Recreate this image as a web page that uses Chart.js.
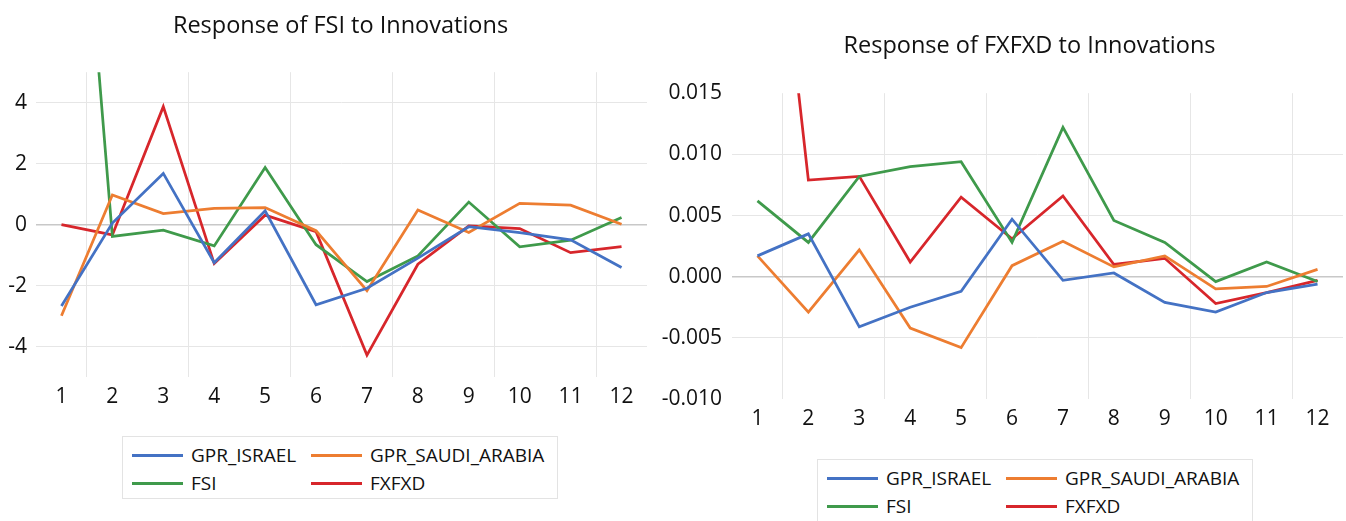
<!DOCTYPE html>
<html>
<head>
<meta charset="utf-8">
<script src="https://cdn.jsdelivr.net/npm/chart.js@4.4.1/dist/chart.umd.min.js"></script>
<style>
    body {
        margin: 0;
        width: 1346px;
        height: 521px;
        overflow: hidden;
        background: #fff;
        position: relative;
        font-family: "Open Sans", sans-serif;
    }
    canvas {
        position: absolute;
        top: 0;
    }
    #fsiChart { left: 0; }
    #fxChart { left: 655px; }
    .legend {
        position: absolute;
        box-sizing: border-box;
        width: 436px;
        height: 63px;
        border: 1px solid #e3e3e3;
        display: grid;
        grid-template-columns: 179px auto;
        grid-auto-rows: 28px;
        padding: 4px 0 0 9px;
        font-size: 19px;
        color: #111;
    }
    .legend .item {
        display: flex;
        align-items: center;
        white-space: nowrap;
    }
    .legend .sample {
        display: inline-block;
        width: 51px;
        height: 3px;
        margin-right: 8px;
    }
    #fsiLegend { left: 122px; top: 436px; }
    #fxLegend { left: 817px; top: 459px; }
</style>
</head>
<body>
<canvas id="fsiChart" width="660" height="420"></canvas>
<canvas id="fxChart" width="691" height="442"></canvas>
<div class="legend" id="fsiLegend"></div>
<div class="legend" id="fxLegend"></div>
<script>
// periods after the shock
const periods = ['1', '2', '3', '4', '5', '6', '7', '8', '9', '10', '11', '12'];
const seriesNames = ['GPR_ISRAEL', 'GPR_SAUDI_ARABIA', 'FSI', 'FXFXD'];

// Response of FSI
const fsi_gprIsrael = [-2.67, 0.05, 1.68, -1.25, 0.45, -2.63, -2.09, -1.1, -0.07, -0.26, -0.5, -1.41];
const fsi_gprSaudi = [-2.99, 0.97, 0.36, 0.53, 0.56, -0.2, -2.17, 0.48, -0.26, 0.7, 0.64, 0.01];
const fsi_fsi = [20.0, -0.39, -0.18, -0.7, 1.87, -0.66, -1.87, -1.03, 0.74, -0.73, -0.51, 0.23];
const fsi_fxfxd = [0.0, -0.34, 3.87, -1.28, 0.31, -0.23, -4.28, -1.3, -0.04, -0.13, -0.92, -0.72];
const fsiTicks = [-4, -2, 0, 2, 4];

// Response of FXFXD
const fx_gprIsrael = [0.0017, 0.0035, -0.0041, -0.0025, -0.0012, 0.0047, -0.0003, 0.0003, -0.0021, -0.0029, -0.0013, -0.0006];
const fx_gprSaudi = [0.0017, -0.0029, 0.0022, -0.0042, -0.0058, 0.0009, 0.0029, 0.0008, 0.0017, -0.001, -0.0008, 0.0006];
const fx_fsi = [0.0062, 0.0028, 0.0082, 0.009, 0.0094, 0.0028, 0.0122, 0.0046, 0.0028, -0.0004, 0.0012, -0.0004];
const fx_fxfxd = [0.045, 0.0079, 0.0082, 0.0012, 0.0065, 0.0031, 0.0066, 0.001, 0.0015, -0.0022, -0.0013, -0.0003];
const fxTicks = [-0.010, -0.005, 0.000, 0.005, 0.010, 0.015];

const colors = ['#4472c4', '#ed7d31', '#3f9a4b', '#d7262b'];
const fontFamily = '"Open Sans", sans-serif';

// put the title over the plot area (Excel centres it there), with a small nudge
const titleOverPlot = {
    id: 'titleOverPlot',
    afterLayout: function (chart, args, opts) {
        const t = chart.titleBlock;
        if (!t) return;
        const w = t.right - t.left;
        const cx = (chart.chartArea.left + chart.chartArea.right) / 2 + (opts.shift || 0);
        t.left = cx - w / 2;
        t.right = cx + w / 2;
    }
};

function makeChart(id, title, series, yMin, yMax, yTicks, fmt, layout) {
    const datasets = series.map(function (data, i) {
        return {
            label: seriesNames[i],
            data: data,
            borderColor: colors[i],
            backgroundColor: colors[i],
            borderWidth: 2.75,
            pointRadius: 0,
            tension: 0,
            fill: false
        };
    });
    return new Chart(document.getElementById(id), {
        type: 'line',
        data: {
            labels: periods,
            datasets: datasets
        },
        plugins: [titleOverPlot],
        options: {
            responsive: false,
            animation: false,
            layout: {
                padding: { left: 0, right: layout.padRight, top: 0, bottom: 0 }
            },
            plugins: {
                legend: { display: false },
                tooltip: { enabled: false },
                titleOverPlot: { shift: layout.titleShift },
                title: {
                    display: true,
                    text: title,
                    color: '#111',
                    font: { family: fontFamily, size: 23.5, weight: 'normal' },
                    padding: { top: layout.titleTop, bottom: layout.titleBottom }
                }
            },
            scales: {
                x: {
                    offset: true,
                    border: { display: false },
                    grid: {
                        offset: true,
                        drawTicks: false,
                        lineWidth: 1,
                        color: function (ctx) {
                            return ctx.index % 2 === 1 ? '#e6e6e6' : 'rgba(0,0,0,0)';
                        }
                    },
                    ticks: {
                        color: '#111',
                        padding: 7,
                        maxRotation: 0,
                        autoSkip: false,
                        font: { family: fontFamily, size: 21 }
                    },
                    afterFit: function (scale) {
                        scale.height = 43;
                    }
                },
                y: {
                    min: yMin,
                    max: yMax,
                    border: { display: false },
                    grid: {
                        drawTicks: false,
                        color: function (ctx) {
                            const v = ctx.tick ? ctx.tick.value : null;
                            if (v === 0) return '#c8c8c8';
                            if (v === yMin || v === yMax) return 'rgba(0,0,0,0)';
                            return '#e6e6e6';
                        },
                        lineWidth: function (ctx) {
                            return ctx.tick && ctx.tick.value === 0 ? 1.5 : 1;
                        }
                    },
                    ticks: {
                        color: '#111',
                        padding: layout.yPad,
                        font: { family: fontFamily, size: 21 },
                        callback: fmt
                    },
                    afterBuildTicks: function (scale) {
                        scale.ticks = yTicks.map(function (v) { return { value: v }; });
                    },
                    afterFit: function (scale) {
                        scale.width = layout.yWidth;
                    }
                }
            }
        }
    });
}

function buildLegend(id, chart) {
    const box = document.getElementById(id);
    chart.data.datasets.forEach(function (ds) {
        const item = document.createElement('div');
        item.className = 'item';
        const sample = document.createElement('span');
        sample.className = 'sample';
        sample.style.background = ds.borderColor;
        item.appendChild(sample);
        item.appendChild(document.createTextNode(ds.label));
        box.appendChild(item);
    });
}

const fsiChart = makeChart('fsiChart', 'Response of FSI to Innovations',
    [fsi_gprIsrael, fsi_gprSaudi, fsi_fsi, fsi_fxfxd], -5, 5, fsiTicks,
    function (v) { return String(v); },
    { padRight: 13, titleTop: 12, titleBottom: 32, titleShift: -1, yWidth: 36, yPad: 9 });

const fxChart = makeChart('fxChart', 'Response of FXFXD to Innovations',
    [fx_gprIsrael, fx_gprSaudi, fx_fsi, fx_fxfxd], -0.010, 0.015, fxTicks,
    function (v) { return v.toFixed(3); },
    { padRight: 3, titleTop: 32, titleBottom: 33, titleShift: -8, yWidth: 77, yPad: 10 });

buildLegend('fsiLegend', fsiChart);
buildLegend('fxLegend', fxChart);
</script>
</body>
</html>
